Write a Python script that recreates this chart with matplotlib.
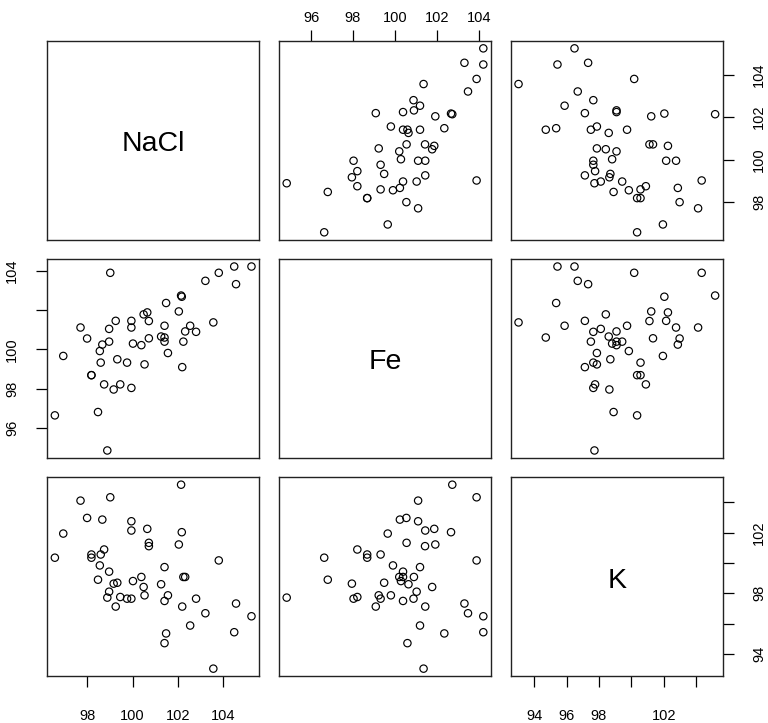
import matplotlib
matplotlib.use("Agg")
import matplotlib.pyplot as plt
import numpy as np

plt.rcParams['font.family'] = ['Liberation Sans', 'DejaVu Sans']

names = ["NaCl", "Fe", "K"]

NaCl = [96.58, 96.95, 97.71, 98.00, 98.19, 98.19, 98.48, 98.56, 98.60, 98.67,
        98.75, 98.89, 98.97, 98.97, 99.02, 99.17, 99.26, 99.33, 99.46, 99.76,
        99.95, 99.95, 99.95, 100.02, 100.39, 100.49, 100.53, 100.65, 100.72, 100.72,
        101.26, 101.41, 101.41, 101.41, 101.48, 101.56, 102.04, 102.14, 102.17, 102.19,
        102.24, 102.32, 102.54, 102.80, 103.21, 103.56, 103.80, 104.48, 104.56, 105.24]
Fe = [96.63, 99.66, 101.11, 100.55, 98.68, 98.68, 96.80, 99.91, 99.32, 100.24,
      98.21, 94.84, 101.04, 100.39, 103.90, 97.95, 101.45, 99.49, 98.21, 99.32,
      101.45, 101.11, 98.03, 100.29, 100.21, 101.78, 99.23, 101.88, 101.44, 100.56,
      100.65, 101.20, 100.60, 100.39, 102.36, 99.81, 101.93, 102.74, 102.68, 99.09,
      100.39, 100.91, 101.20, 100.89, 103.49, 101.37, 103.90, 104.22, 103.32, 104.22]
K = [100.35, 101.94, 104.11, 102.97, 100.56, 100.35, 98.90, 99.84, 100.56, 102.86,
     100.89, 97.72, 98.11, 99.43, 104.33, 98.64, 97.13, 98.70, 97.76, 97.65,
     102.14, 102.75, 97.65, 98.81, 99.08, 98.42, 97.87, 102.25, 101.11, 101.33,
     98.60, 99.73, 94.72, 97.50, 95.36, 97.87, 101.22, 105.16, 102.03, 97.13,
     99.08, 99.08, 95.88, 97.65, 96.69, 93.04, 100.17, 95.44, 97.33, 96.49]

data = [np.array(NaCl), np.array(Fe), np.array(K)]

ticks = {
    0: [98, 100, 102, 104],
    1: [96, 98, 100, 102, 104],
    2: [94, 96, 98, 100, 102, 104],
}
labels_top_fe = ["96", "98", "100", "102", "104"]
labels_left_fe = ["96", "98", "100", "", "104"]
labels_right_nacl = ["98", "100", "102", "104"]
labels_bottom_nacl = ["98", "100", "102", "104"]
labels_bottom_k = ["94", "96", "98", "", "102", ""]
labels_right_k = ["94", "", "98", "", "102", ""]

W, H = 768, 723
fig = plt.figure(figsize=(W / 100, H / 100), dpi=100)

left, right, top, bottom = 47, 723, 41, 676
gap = 19.5
pw = (right - left - 2 * gap) / 3
ph = (bottom - top - 2 * gap) / 3


def lims(v):
    lo, hi = v.min(), v.max()
    e = (hi - lo) * 0.04
    return lo - e, hi + e


tick_fs = 10.5
axes = {}
for i in range(3):
    for j in range(3):
        x0 = left + j * (pw + gap)
        y0 = top + i * (ph + gap)
        ax = fig.add_axes([x0 / W, 1 - (y0 + ph) / H, pw / W, ph / H])
        axes[(i, j)] = ax
        ax.set_xlim(*lims(data[j]))
        ax.set_ylim(*lims(data[i]))
        for s in ax.spines.values():
            s.set_linewidth(1.0)
            s.set_color("#222222")
        ax.set_xticks([])
        ax.set_yticks([])
        if i == j:
            ax.text(0.5, 0.48, names[i], transform=ax.transAxes, ha="center",
                    va="center", fontsize=20.5)
        else:
            ax.scatter(data[j], data[i], s=28, facecolors="none",
                       edgecolors="black", linewidths=0.85)

tkw = dict(length=8, width=0.9, labelsize=tick_fs, colors="black")

# top of column 2 (Fe)
ax = axes[(0, 1)]
ax.set_xticks(ticks[1])
ax.set_xticklabels(labels_top_fe)
ax.xaxis.set_ticks_position("top")
ax.tick_params(axis="x", pad=3.5, **tkw)

# right of row 1 (NaCl)
ax = axes[(0, 2)]
ax.set_yticks(ticks[0])
ax.set_yticklabels(labels_right_nacl, rotation=90, va="center")
ax.yaxis.set_ticks_position("right")
ax.tick_params(axis="y", pad=13, **tkw)

# left of row 2 (Fe)
ax = axes[(1, 0)]
ax.set_yticks(ticks[1])
ax.set_yticklabels(labels_left_fe, rotation=90, va="center")
ax.tick_params(axis="y", pad=12, **tkw)

# bottom of column 1 (NaCl)
ax = axes[(2, 0)]
ax.set_xticks(ticks[0])
ax.set_xticklabels(labels_bottom_nacl)
ax.tick_params(axis="x", pad=16, **tkw)

# K diag: bottom and right
ax = axes[(2, 2)]
ax.set_xticks(ticks[2])
ax.set_xticklabels(labels_bottom_k)
ax.tick_params(axis="x", pad=16, **tkw)
ax.set_yticks(ticks[2])
ax.set_yticklabels(labels_right_k, rotation=90, va="center")
ax.yaxis.set_ticks_position("right")
ax.tick_params(axis="y", pad=13, **tkw)

fig.savefig("out.png", dpi=100)
